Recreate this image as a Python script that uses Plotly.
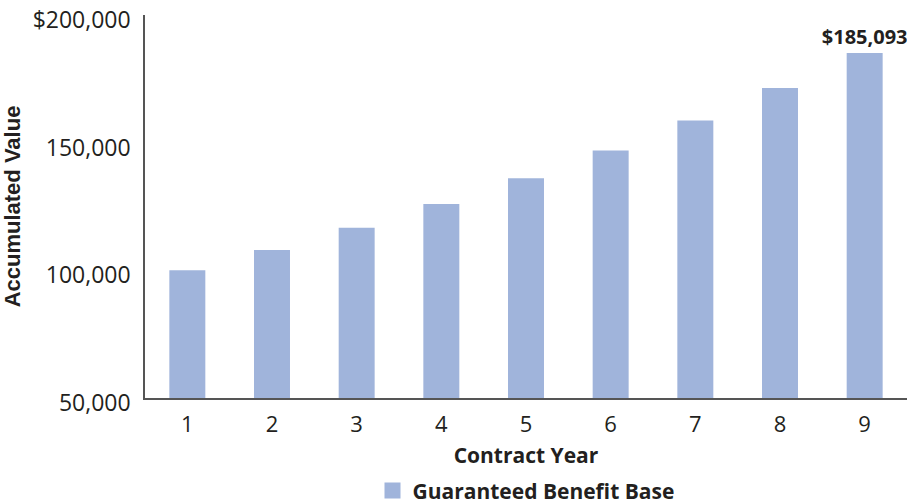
import plotly.graph_objects as go

years = ["1", "2", "3", "4", "5", "6", "7", "8", "9"]
values = [100000, 108000, 116640, 125971, 136049, 146933, 158687, 171382, 185093]
y_ticks = [50000, 100000, 150000, 200000]
y_tick_labels = ["50,000", "100,000", "150,000", "$200,000"]
series_name = "Guaranteed Benefit Base"

bar_color = "#A0B4DB"
text_color = "#231F20"
font_main = "Open Sans, Lato, sans-serif"

labels = ["" for _ in values]
labels[-1] = f"${values[-1]:,.0f}"

fig = go.Figure()
fig.add_trace(go.Bar(
    x=years, y=values, name=series_name,
    marker=dict(color=bar_color, line=dict(width=0)),
    text=labels, textposition="outside", constraintext="none",
    textfont=dict(family=font_main, size=20, color=text_color, weight="bold"),
    cliponaxis=False, showlegend=False,
))
# legend entry (larger square swatch than the default bar swatch)
fig.add_trace(go.Scatter(
    x=[None], y=[None], mode="markers", name=series_name,
    marker=dict(symbol="square", size=16, color=bar_color),
    showlegend=True, hoverinfo="skip",
))

fig.update_layout(
    width=907, height=502,
    margin=dict(l=145, r=0, t=15, b=104),
    plot_bgcolor="white", paper_bgcolor="white",
    bargap=0.575,
    font=dict(family=font_main, color=text_color),
    showlegend=True,
    legend=dict(orientation="h", x=0.5, xanchor="center", y=0.022, yref="container",
                yanchor="middle", itemsizing="trace",
                font=dict(family=font_main, size=21, color=text_color, weight="bold")),
    xaxis=dict(
        showline=True, linecolor="#555555", linewidth=1.5,
        showgrid=False, ticks="", tickfont=dict(size=22, color=text_color),
        ticklabelstandoff=6,
        title=dict(text="<b>Contract Year</b>", font=dict(size=21, color=text_color), standoff=11),
        automargin=False,
    ),
    yaxis=dict(
        range=[50000, 200000], tickvals=y_ticks, ticktext=y_tick_labels,
        showline=True, linecolor="#555555", linewidth=1.5,
        showgrid=False, ticks="", zeroline=False,
        tickfont=dict(size=23, color=text_color),
        ticklabelstandoff=8, ticklabelshift=5,
        title=dict(text="<b>Accumulated Value</b>", standoff=11,
                   font=dict(family="Liberation Sans, Arial, sans-serif", size=22, color=text_color)),
        automargin=False,
    ),
)

fig.write_html("out.html")
